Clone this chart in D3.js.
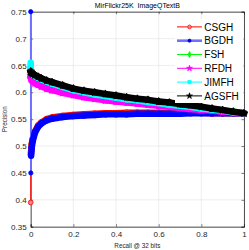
<!DOCTYPE html>
<html><head><meta charset="utf-8">
<script src="https://cdn.jsdelivr.net/npm/d3@7"></script>
<style>
html,body{margin:0;padding:0;background:#fff;}
svg{display:block;font-family:"Liberation Sans",Arial,Helvetica,sans-serif;}
</style></head>
<body>
<svg id="c" width="249" height="250"></svg>
<script>
const recall = [0, 0.0005, 0.002, 0.005, 0.01, 0.02, 0.035, 0.05, 0.075, 0.1, 0.15, 0.2, 0.25, 0.3, 0.35, 0.4, 0.45, 0.5, 0.55, 0.6, 0.65, 0.7, 0.75, 0.8, 0.85, 0.9, 0.95, 1];
const seriesNames = ["CSGH", "BGDH", "FSH", "RFDH", "JIMFH", "AGSFH"];
const CSGH  = [0.395,0.485,0.490,0.504,0.514,0.527,0.538,0.544,0.550,0.553,0.556,0.558,0.559,0.560,0.561,0.561,0.562,0.562,0.562,0.562,0.562,0.562,0.562,0.562,0.561,0.561,0.561,0.561];
const BGDH  = [0.750,0.450,0.482,0.498,0.510,0.525,0.536,0.542,0.548,0.551,0.554,0.556,0.557,0.558,0.559,0.559,0.559,0.560,0.560,0.560,0.560,0.560,0.561,0.561,0.561,0.561,0.561,0.561];
const FSH   = [0.648,0.638,0.635,0.633,0.631,0.628,0.625,0.622,0.618,0.614,0.609,0.604,0.600,0.597,0.594,0.591,0.589,0.586,0.584,0.581,0.579,0.576,0.574,0.571,0.569,0.566,0.564,0.561];
const RFDH  = [0.631,0.627,0.625,0.623,0.621,0.617,0.614,0.611,0.607,0.604,0.599,0.595,0.591,0.588,0.585,0.583,0.581,0.579,0.577,0.575,0.573,0.571,0.569,0.567,0.566,0.564,0.563,0.561];
const JIMFH = [0.655,0.640,0.637,0.635,0.633,0.630,0.627,0.624,0.620,0.616,0.610,0.604,0.600,0.596,0.593,0.590,0.587,0.585,0.582,0.580,0.577,0.575,0.573,0.570,0.568,0.566,0.563,0.561];
const AGSFH = [0.639,0.638,0.637,0.636,0.634,0.632,0.629,0.626,0.622,0.619,0.613,0.607,0.603,0.600,0.597,0.594,0.591,0.588,0.586,0.583,0.581,0.578,0.576,0.573,0.570,0.567,0.564,0.561];
const xTicks = [0, 0.2, 0.4, 0.6, 0.8, 1];
const yTicks = [0.35, 0.4, 0.45, 0.5, 0.55, 0.6, 0.65, 0.7, 0.75];
const titleText = "MirFlickr25K  ImageQTextB";
const xLabel = "Recall @ 32 bits";
const yLabel = "Precision";

const values = [CSGH, BGDH, FSH, RFDH, JIMFH, AGSFH];
const colors = ["#ff0000", "#0000ff", "#00ff00", "#ff00ff", "#00ffff", "#000000"];
const lineColors = ["#ff0000", "#7070ff", "#00ff00", "#ff00ff", "#00ffff", "#000000"];
const symbols = [d3.symbolCircle, d3.symbolCircle, d3.symbolDiamond, d3.symbolStar, d3.symbolSquare, d3.symbolStar];

const L = 30.7, T = 11.7, R = 244, B = 226.7;
const svg = d3.select("#c");
const x = d3.scaleLinear().domain([0, 1]).range([L, R]);
const y = d3.scaleLinear().domain([0.35, 0.75]).range([B, T]);
const axisCol = "#262626";

// grid
svg.append("g").selectAll("line").data(xTicks).join("line")
  .attr("x1", d => x(d)).attr("x2", d => x(d)).attr("y1", T).attr("y2", B)
  .attr("stroke", "#e3e3e3").attr("stroke-width", 0.6);
svg.append("g").selectAll("line").data(yTicks).join("line")
  .attr("x1", L).attr("x2", R).attr("y1", d => y(d)).attr("y2", d => y(d))
  .attr("stroke", "#e3e3e3").attr("stroke-width", 0.6);

// axes
const fs = 8;
const gx = svg.append("g").attr("transform", `translate(0,${B})`)
  .call(d3.axisBottom(x).tickValues(xTicks).tickSize(-2.5).tickPadding(5).tickFormat(d3.format("~g")));
const gy = svg.append("g").attr("transform", `translate(${L},0)`)
  .call(d3.axisLeft(y).tickValues(yTicks).tickSize(-2.5).tickPadding(4).tickFormat(d3.format("~g")));
const gx2 = svg.append("g").attr("transform", `translate(0,${T})`)
  .call(d3.axisTop(x).tickValues(xTicks).tickSize(-2.5).tickFormat(""));
const gy2 = svg.append("g").attr("transform", `translate(${R},0)`)
  .call(d3.axisRight(y).tickValues(yTicks).tickSize(-2.5).tickFormat(""));
[gx, gy, gx2, gy2].forEach(g => {
  g.selectAll("path.domain").attr("stroke", axisCol).attr("stroke-width", 0.8);
  g.selectAll(".tick line").attr("stroke", axisCol).attr("stroke-width", 0.6);
  g.selectAll("text").attr("fill", axisCol).style("font-size", fs + "px")
    .style("font-family", '"Liberation Sans",Arial,sans-serif');
});

// series
const thin = d3.line().x(d => x(d[0])).y(d => y(d[1]));
values.forEach((vals, i) => {
  const pts = recall.map((r, k) => [r, vals[k]]);
  const g = svg.append("g");
  g.append("path").attr("d", thin(pts)).attr("fill", "none")
    .attr("stroke", lineColors[i]).attr("stroke-width", i === 1 ? 1.6 : 1);
  const segs = [];
  for (let k = 1; k < pts.length; k++) {
    const dx = x(pts[k][0]) - x(pts[k-1][0]), dy = y(pts[k][1]) - y(pts[k-1][1]);
    if (Math.hypot(dx, dy) < 14) segs.push([pts[k-1], pts[k]]);
  }
  g.selectAll("path.seg").data(segs).join("path").attr("class", "seg")
    .attr("d", d => thin(d)).attr("fill", "none")
    .attr("stroke", colors[i]).attr("stroke-width", 6.5).attr("stroke-linecap", "round");
  g.selectAll("path.mk").data(pts).join("path").attr("class", "mk")
    .attr("transform", d => `translate(${x(d[0])},${y(d[1])})`)
    .attr("d", d3.symbol().type(symbols[i]).size(i === 1 ? 14 : 18))
    .attr("fill", i === 0 ? "#ff8080" : colors[i]).attr("stroke", colors[i]).attr("stroke-width", 0.8);
});

// legend
const lg = svg.append("g");
lg.append("rect").attr("x", 175).attr("y", 19).attr("width", R - 175 - 0.5).attr("height", 84)
  .attr("fill", "#fff");
const ly0 = 26.9, lstep = 13.8;
seriesNames.forEach((n, i) => {
  const yy = ly0 + i * lstep;
  lg.append("line").attr("x1", 177).attr("x2", 202).attr("y1", yy).attr("y2", yy)
    .attr("stroke", lineColors[i]).attr("stroke-width", i === 1 ? 2.6 : 1);
  lg.append("path").attr("transform", `translate(189.5,${yy})`)
    .attr("d", d3.symbol().type(symbols[i]).size(i === 1 ? 8 : 11))
    .attr("fill", i === 0 ? "#ff8080" : colors[i]).attr("stroke", colors[i]).attr("stroke-width", 0.7);
  lg.append("text").attr("x", 204.3).attr("y", yy).attr("dy", "0.36em")
    .style("font-size", "10px").attr("fill", "#000").text(n);
});

// titles
svg.append("text").attr("x", (L + R) / 2).attr("y", 7.6).attr("text-anchor", "middle")
  .style("font-size", "7px").style("white-space", "pre").attr("fill", "#000").text(titleText);
svg.append("text").attr("x", (L + R) / 2).attr("y", 248).attr("text-anchor", "middle")
  .style("font-size", "6.3px").attr("fill", axisCol).text(xLabel);
svg.append("text").attr("transform", `translate(7.2,${(T + B) / 2}) rotate(-90)`).attr("text-anchor", "middle")
  .style("font-size", "6.3px").attr("fill", axisCol).text(yLabel);
</script>
</body></html>
